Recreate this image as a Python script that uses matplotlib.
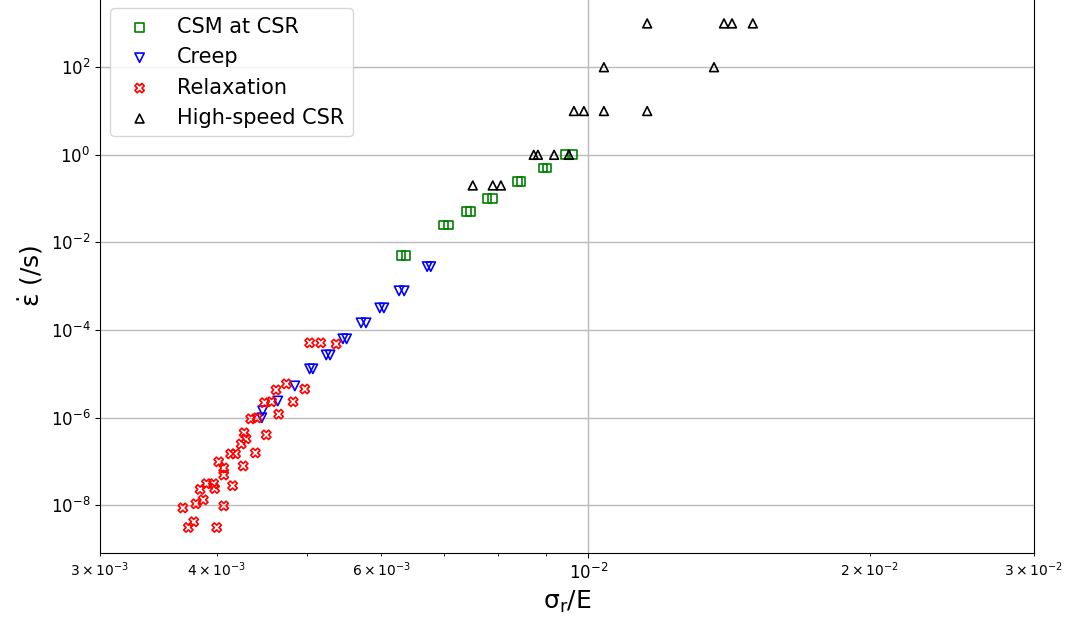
import numpy as np
import matplotlib
matplotlib.use("Agg")
import matplotlib.pyplot as plt
from matplotlib.ticker import NullLocator

plt.rcParams["mathtext.default"] = "regular"

# CSM at CSR (green squares), pairs at each strain rate
csm_x = [6.30e-3, 6.38e-3, 7.00e-3, 7.09e-3, 7.40e-3, 7.48e-3, 7.79e-3, 7.90e-3,
         8.39e-3, 8.47e-3, 8.94e-3, 9.03e-3, 9.46e-3, 9.61e-3]
csm_y = [5e-3, 5e-3, 2.5e-2, 2.5e-2, 5e-2, 5e-2, 1e-1, 1e-1,
         2.5e-1, 2.5e-1, 5e-1, 5e-1, 1.0, 1.0]

# Creep (blue down triangles)
creep_x = [6.72e-3, 6.78e-3, 6.27e-3, 6.35e-3, 5.98e-3, 6.04e-3, 5.71e-3, 5.78e-3,
           5.46e-3, 5.51e-3, 5.24e-3, 5.29e-3, 5.03e-3, 5.07e-3, 4.85e-3, 4.65e-3,
           4.48e-3, 4.47e-3]
creep_y = [2.8e-3, 2.8e-3, 7.85e-4, 7.85e-4, 3.2e-4, 3.2e-4, 1.46e-4, 1.46e-4,
           6.3e-5, 6.3e-5, 2.7e-5, 2.7e-5, 1.3e-5, 1.3e-5, 5.3e-6, 2.4e-6,
           1.43e-6, 9.9e-7]

# Relaxation (red X)
relax_x = [3.68e-3, 3.73e-3, 3.78e-3, 3.80e-3, 3.84e-3, 3.87e-3, 3.90e-3, 3.97e-3,
           3.98e-3, 4.00e-3, 4.02e-3, 4.07e-3, 4.07e-3, 4.07e-3, 4.14e-3, 4.16e-3,
           4.19e-3, 4.25e-3, 4.27e-3, 4.28e-3, 4.30e-3, 4.35e-3, 4.40e-3, 4.42e-3,
           4.50e-3, 4.52e-3, 4.58e-3, 4.63e-3, 4.66e-3, 4.75e-3, 4.83e-3, 4.97e-3,
           5.03e-3, 5.17e-3, 5.37e-3]
relax_y = [8.7e-9, 3.1e-9, 4.2e-9, 1.08e-8, 2.3e-8, 1.33e-8, 3.1e-8, 3.1e-8,
           2.4e-8, 3.1e-9, 9.8e-8, 7.1e-8, 4.9e-8, 9.7e-9, 1.49e-7, 2.8e-8,
           1.49e-7, 2.5e-7, 7.9e-8, 4.5e-7, 3.3e-7, 9.4e-7, 1.57e-7, 9.9e-7,
           2.2e-6, 4.05e-7, 2.3e-6, 4.3e-6, 1.2e-6, 5.9e-6, 2.3e-6, 4.5e-6,
           5.1e-5, 5.1e-5, 4.8e-5]

# High-speed CSR (black up triangles)
hs_x = [7.52e-3, 7.90e-3, 8.06e-3, 8.74e-3, 8.83e-3, 9.19e-3, 9.53e-3,
        9.65e-3, 9.89e-3, 1.039e-2, 1.156e-2, 1.039e-2, 1.363e-2,
        1.156e-2, 1.397e-2, 1.425e-2, 1.500e-2]
hs_y = [0.2, 0.2, 0.2, 1, 1, 1, 1,
        10, 10, 10, 10, 100, 100,
        1000, 1000, 1000, 1000]

fig = plt.figure(figsize=(10.72, 6.19), dpi=100)
ax = fig.add_axes([100 / 1072, 66 / 619, 934 / 1072, 555 / 619])

ax.scatter(csm_x, csm_y, marker="s", s=40, facecolors="none", edgecolors="green",
           linewidths=1.2, label="CSM at CSR")
ax.scatter(creep_x, creep_y, marker="v", s=45, facecolors="none", edgecolors="blue",
           linewidths=1.2, label="Creep")
ax.scatter(relax_x, relax_y, marker="X", s=45, facecolors="none", edgecolors="red",
           linewidths=1.2, label="Relaxation")
ax.scatter(hs_x, hs_y, marker="^", s=40, facecolors="none", edgecolors="black",
           linewidths=1.2, label="High-speed CSR")

ax.set_xscale("log")
ax.set_yscale("log")
ax.set_xlim(3e-3, 3e-2)
ax.set_ylim(10 ** -9.09, 10 ** 3.58)
ax.yaxis.set_minor_locator(NullLocator())
ax.grid(True, which="major", color="#bbbbbb", linewidth=1.0)
ax.set_axisbelow(True)
ax.tick_params(labelsize=12)

ax.set_xlabel(r"$\sigma_r$/E", fontsize=18)
ax.set_ylabel(r"$\dot{\varepsilon}$ (/s)", fontsize=18)
ax.legend(loc="upper left", fontsize=15)

fig.savefig("out.png", dpi=100)
